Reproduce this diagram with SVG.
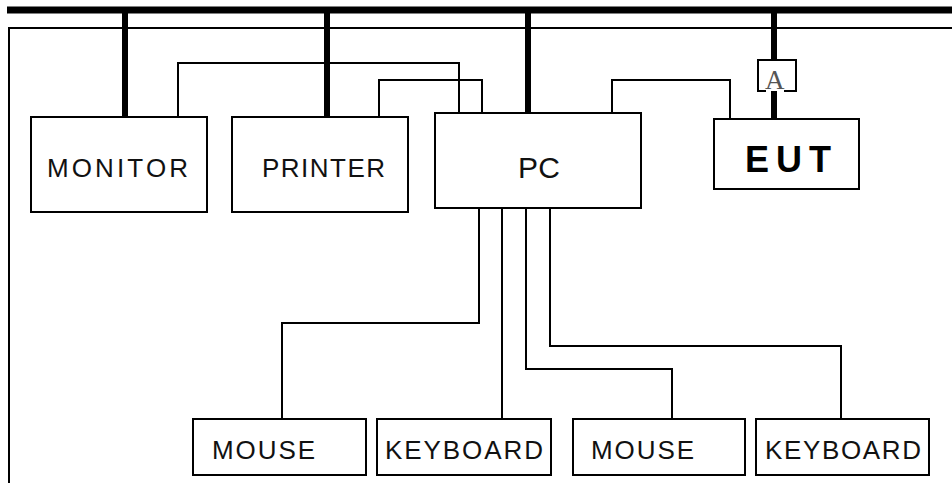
<svg xmlns="http://www.w3.org/2000/svg" width="952" height="483" viewBox="0 0 952 483">
<style>
.box{fill:#fff;stroke:#000;stroke-width:2}
.thin{fill:none;stroke:#000;stroke-width:2}
.thick{fill:none;stroke:#000;stroke-width:6}
.lbl{font-family:"Liberation Sans",Arial,sans-serif;font-size:26px;fill:#111}
</style>
<rect width="952" height="483" fill="#fff"/>
<g id="connectors">
<path class="thick" d="M7,10 H952" style="stroke-width:7"/>
<path class="thin" d="M9,483 V28 H952"/>
<path class="thick" d="M125,10 V117 M327,10 V117 M528,10 V113 M774,10 V60 M774,90 V119"/>
<path class="thin" d="M178,117 V63 H459 V113"/>
<path class="thin" d="M379,117 V80 H482 V113"/>
<path class="thin" d="M612,113 V80 H730 V119"/>
<path class="thin" d="M479,208 V323 H282 V419"/>
<path class="thin" d="M502,208 V419"/>
<path class="thin" d="M526,208 V369 H672 V419"/>
<path class="thin" d="M550,208 V346 H841 V419"/>
</g>
<g id="attenuator">
<rect x="758" y="60" width="38" height="31" fill="#fff" stroke="none"/>
<path class="thin" d="M766,91 H758 V60 H796 V91 H784"/>
<text x="765" y="89" style="font-family:'Liberation Serif','Times New Roman',serif;font-size:27px;fill:#555">A</text>
</g>
<g id="monitor">
<rect class="box" x="31" y="117" width="176" height="95"/>
<text class="lbl" x="47" y="177" textLength="141" lengthAdjust="spacing">MONITOR</text>
</g>
<g id="printer">
<rect class="box" x="232" y="117" width="176" height="95"/>
<text class="lbl" x="262" y="177" textLength="123" lengthAdjust="spacing">PRINTER</text>
</g>
<g id="pc">
<rect class="box" x="435" y="113" width="206" height="95"/>
<text class="lbl" x="518" y="178" style="font-size:30px" textLength="42" lengthAdjust="spacing">PC</text>
</g>
<g id="eut">
<rect class="box" x="714" y="119" width="145" height="70"/>
<text class="lbl" x="745" y="172" style="font-size:36px;font-weight:bold;fill:#000" textLength="86" lengthAdjust="spacing">EUT</text>
</g>
<g id="mouse1">
<rect class="box" x="193" y="419" width="173" height="56"/>
<text class="lbl" x="212" y="459" textLength="103" lengthAdjust="spacing">MOUSE</text>
</g>
<g id="keyboard1">
<rect class="box" x="377" y="419" width="174" height="56"/>
<text class="lbl" x="385" y="459" textLength="158" lengthAdjust="spacing">KEYBOARD</text>
</g>
<g id="mouse2">
<rect class="box" x="573" y="419" width="172" height="56"/>
<text class="lbl" x="591" y="459" textLength="103" lengthAdjust="spacing">MOUSE</text>
</g>
<g id="keyboard2">
<rect class="box" x="756" y="419" width="173" height="56"/>
<text class="lbl" x="765" y="459" textLength="156" lengthAdjust="spacing">KEYBOARD</text>
</g>
</svg>
